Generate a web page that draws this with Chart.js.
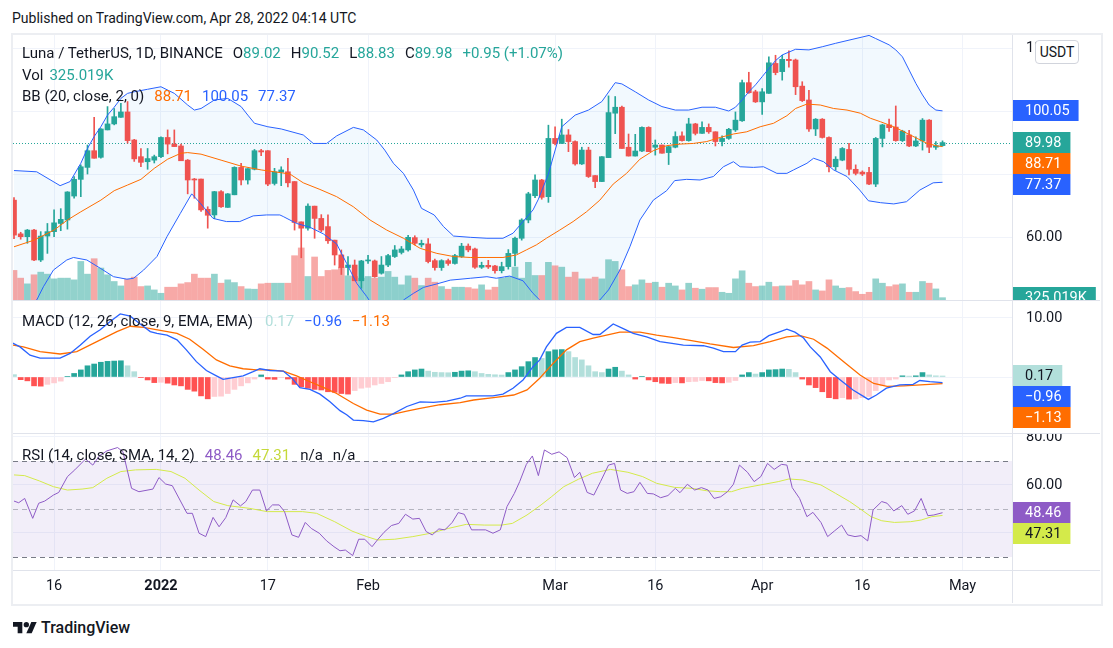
<!DOCTYPE html>
<html lang="en">

<head>
    <meta charset="UTF-8">
    <title>LUNAUSDT 1D - TradingView</title>
    <script src="https://cdn.jsdelivr.net/npm/chart.js"></script>
    <style>
        body {
            margin: 0;
            background: #fff;
            font-family: Roboto, "Liberation Sans", Arial, sans-serif;
            color: #131722;
        }

        #page {
            position: relative;
            width: 1113px;
            height: 648px;
            overflow: hidden;
        }

        .abs {
            position: absolute;
        }

        canvas {
            position: absolute;
            left: 13px;
        }

        .line {
            position: absolute;
            background: #e0e3eb;
        }

        .lg {
            position: absolute;
            left: 22px;
            font-size: 15px;
            line-height: 20px;
            white-space: nowrap;
            z-index: 5;
        }

        .lg span {
            margin-left: 10px;
        }

        .lg span.v {
            margin-left: 0;
        }
    </style>
</head>

<body>
    <div id="page">
        <div class="abs" style="left:12px;top:10px;font-size:14px;color:#131722">Published on TradingView.com, Apr 28, 2022 04:14 UTC</div>
        <div class="abs" style="left:11px;top:33px;width:1088px;height:569px;border:2px solid #eceef2"></div>

        <canvas id="priceChart" width="1087" height="265" style="top:35px"></canvas>
        <canvas id="macdChart" width="1087" height="133" style="top:301px"></canvas>
        <canvas id="rsiChart" width="1087" height="168" style="top:434px"></canvas>

        <div class="line" style="left:13px;top:300px;width:1087px;height:1px"></div>
        <div class="line" style="left:13px;top:433px;width:1087px;height:1px"></div>
        <div class="line" style="left:13px;top:570px;width:1087px;height:1px"></div>
        <div class="line" style="left:1012px;top:35px;width:1px;height:568px"></div>

        <div class="abs" style="left:1035px;top:40px;width:42px;height:22px;border:1px solid #d1d4dc;border-radius:4px;background:#fff;font-size:14px;line-height:22px;text-align:center;z-index:6">USDT</div>

        <div class="lg" id="lgMain" style="top:43px"></div>
        <div class="lg" id="lgVol" style="top:65px"></div>
        <div class="lg" id="lgBB" style="top:86px"></div>
        <div class="lg" id="lgMacd" style="top:311px"></div>
        <div class="lg" id="lgRsi" style="top:445px"></div>

        <div class="abs" style="left:13px;top:618px;display:flex;align-items:center">
            <svg width="24" height="16" viewBox="0 0 36 24">
                <path d="M14 20H7V10H0V3h14v17z" fill="#131722" />
                <circle cx="20" cy="7" r="4" fill="#131722" />
                <path d="M28 20h-8l7.5-17h8L28 20z" fill="#131722" />
            </svg>
            <span style="margin-left:4px;font-size:16px;font-weight:500;color:#131722">TradingView</span>
        </div>
    </div>

    <script>
        // time axis: candle index 0 = 10 Dec 2021, last = 28 Apr 2022
        const gridDays = [6, 22, 38, 53, 81, 96, 112, 127, 142];
        const gridLabels = ['16', '2022', '17', 'Feb', 'Mar', '16', 'Apr', '16', 'May'];

        const opens = [71.7, 61.0, 60.1, 62.2, 52.7, 60.3, 61.7, 64.3, 65.4, 73.0, 78.3, 82.1, 87.4, 85.3, 94.0, 95.9, 98.0, 99.7, 90.8, 85.5,
            83.9, 84.4, 85.5, 91.6, 89.5, 88.9, 84.4, 78.4, 78.4, 68.8, 67.0, 74.4, 69.4, 73.4, 82.1, 78.1, 81.5, 87.4, 87.4, 77.0,
            80.6, 80.7, 77.6, 64.8, 62.8, 69.8, 65.9, 63.3, 59.0, 54.3, 50.3, 51.1, 46.1, 52.4, 52.4, 48.5, 51.1, 53.8, 55.1, 55.9,
            59.8, 57.5, 57.8, 52.5, 50.3, 52.5, 51.6, 53.8, 57.1, 56.2, 50.4, 51.0, 50.8, 49.3, 50.6, 54.8, 59.6, 65.4, 73.1, 78.1,
            72.8, 91.3, 89.7, 92.4, 90.3, 83.2, 87.6, 79.5, 77.6, 85.2, 99.3, 101.2, 88.5, 85.7, 87.3, 94.8, 88.5, 89.2, 86.8, 88.5,
            92.1, 90.6, 95.9, 92.9, 94.8, 93.4, 90.3, 91.3, 94.0, 96.9, 109.0, 106.1, 102.9, 105.6, 115.1, 112.5, 116.4, 116.2, 107.9, 103.5,
            94.3, 97.4, 91.6, 82.3, 84.4, 87.8, 81.5, 80.6, 80.5, 76.8, 91.3, 95.6, 94.9, 90.6, 92.4, 88.9, 90.5, 97.1, 88.5, 89.02];
        const highs = [72.5, 61.5, 62.4, 62.4, 61.7, 64.3, 68.6, 69.0, 74.4, 79.2, 82.9, 89.2, 98.0, 94.4, 101.4, 100.8, 102.4, 103.0, 91.0, 88.1,
            88.1, 86.0, 91.8, 94.0, 94.0, 89.5, 84.6, 78.6, 78.4, 69.6, 74.5, 74.7, 73.8, 82.3, 83.4, 81.7, 87.8, 87.8, 87.4, 81.8,
            82.3, 85.0, 77.6, 64.8, 70.5, 69.8, 67.1, 67.0, 59.0, 55.9, 53.8, 52.7, 52.6, 54.2, 52.7, 53.8, 54.5, 57.3, 57.0, 60.5,
            60.4, 59.0, 59.5, 53.0, 52.8, 53.0, 54.5, 58.0, 57.8, 56.5, 52.0, 52.6, 51.0, 52.0, 56.0, 60.0, 65.8, 74.2, 79.7, 78.3,
            95.5, 95.0, 97.4, 94.1, 90.5, 88.5, 88.5, 79.5, 85.5, 104.8, 104.6, 101.6, 92.7, 92.6, 95.0, 95.0, 90.8, 89.2, 88.9, 93.4,
            93.4, 97.7, 96.1, 96.6, 95.9, 93.4, 92.1, 94.5, 99.7, 109.8, 112.3, 106.6, 107.1, 117.2, 117.7, 117.7, 119.1, 116.5, 109.3, 106.6,
            97.6, 97.6, 91.8, 85.5, 88.4, 89.7, 82.9, 81.0, 82.1, 91.6, 95.8, 97.4, 101.6, 93.9, 93.9, 91.8, 97.6, 97.3, 90.3, 90.52];
        const lows = [59.5, 59.3, 58.0, 52.5, 52.2, 54.8, 60.1, 62.0, 62.5, 72.3, 72.8, 80.0, 85.0, 85.0, 94.0, 95.6, 98.0, 89.8, 84.0, 82.3,
            81.5, 83.5, 85.2, 86.4, 88.7, 84.2, 73.7, 72.3, 68.1, 62.8, 65.8, 69.4, 69.4, 73.4, 76.5, 76.8, 81.3, 85.8, 76.3, 76.5,
            76.3, 75.9, 62.2, 53.4, 62.2, 59.6, 61.7, 58.0, 51.1, 48.1, 47.9, 46.1, 43.7, 51.6, 47.2, 48.2, 50.6, 53.5, 54.6, 55.5,
            57.5, 56.8, 51.8, 49.5, 49.4, 51.0, 51.4, 53.5, 55.3, 50.0, 50.0, 50.0, 48.5, 48.6, 49.8, 50.8, 59.0, 64.5, 72.5, 72.0,
            71.0, 89.2, 89.7, 87.1, 82.8, 83.0, 78.9, 75.7, 77.6, 85.2, 92.8, 88.1, 85.7, 85.7, 87.1, 87.1, 86.0, 86.6, 83.0, 88.3,
            90.4, 90.4, 92.4, 92.9, 92.9, 88.9, 88.9, 91.0, 93.5, 96.7, 105.6, 102.7, 98.9, 105.6, 111.5, 109.8, 113.9, 105.2, 103.0, 93.5,
            92.2, 91.4, 80.7, 81.2, 84.2, 79.7, 79.7, 79.5, 76.6, 76.0, 88.6, 93.5, 90.4, 90.3, 88.7, 88.7, 87.6, 86.8, 87.8, 88.83];
        const closes = [60.6, 60.1, 62.2, 52.7, 60.3, 61.7, 64.5, 65.6, 74.3, 78.3, 82.3, 87.4, 85.0, 94.3, 95.9, 98.2, 99.7, 90.6, 84.8, 83.7,
            84.9, 85.5, 91.6, 89.5, 88.7, 84.2, 78.1, 78.1, 68.6, 66.9, 74.4, 69.6, 73.7, 82.1, 78.1, 81.7, 87.4, 87.0, 76.8, 80.7,
            81.3, 77.2, 64.6, 62.8, 69.8, 65.9, 62.2, 58.8, 54.3, 50.3, 51.1, 46.1, 52.4, 52.6, 47.4, 51.1, 54.1, 55.9, 56.2, 59.9,
            58.0, 58.0, 52.2, 50.3, 52.5, 51.6, 54.1, 57.1, 55.9, 50.4, 51.0, 50.5, 49.3, 50.6, 54.8, 59.6, 65.4, 73.7, 78.1, 72.6,
            91.3, 89.7, 92.4, 90.3, 83.2, 87.6, 79.2, 77.6, 85.5, 99.5, 101.2, 88.1, 85.7, 87.3, 94.8, 87.1, 89.2, 86.6, 88.7, 91.9,
            90.6, 95.9, 92.9, 94.8, 93.4, 90.3, 91.3, 94.2, 97.1, 109.0, 105.8, 102.9, 106.1, 115.3, 112.2, 116.4, 116.0, 107.7, 103.3, 94.3,
            97.4, 91.6, 82.3, 84.7, 88.1, 81.5, 80.2, 80.0, 76.8, 91.3, 95.6, 94.7, 90.6, 93.6, 88.9, 90.5, 97.1, 88.5, 89.03, 89.98];
        // volume in thousands
        const volumes = [4140, 3060, 2260, 3530, 3900, 3620, 2960, 3060, 3060, 2820, 5400, 3620, 5780, 4470, 3530, 2590, 1970, 2920, 3200, 1880,
            1970, 1410, 940, 1790, 1790, 2260, 2440, 3620, 3060, 3060, 3620, 2350, 2820, 2440, 1880, 1550, 1510, 2260, 2350, 2350,
            2350, 2350, 6200, 7290, 3290, 6020, 3290, 4140, 4230, 4600, 3380, 3290, 3060, 3290, 3060, 3200, 4000, 3200, 2120, 3380,
            3060, 2020, 3060, 2490, 1880, 1510, 1790, 1790, 1740, 1550, 2120, 1410, 1790, 3060, 3290, 4600, 3060, 5270, 3430, 3430,
            5270, 4790, 4600, 3200, 3900, 2960, 2960, 3200, 2960, 5640, 5400, 4230, 1880, 2120, 2820, 2350, 2490, 1790, 2350, 1970,
            1410, 2350, 1650, 1510, 1740, 1740, 1080, 940, 2960, 4090, 2350, 1880, 1970, 2490, 1880, 1970, 1970, 2730, 2120, 2590,
            1410, 1270, 2820, 1970, 1650, 1740, 1180, 800, 1080, 2960, 2350, 1880, 2120, 2260, 1080, 1080, 2590, 2350, 1550, 325.019];

        // Bollinger bands: [candle index, price]
        const bbUpper = [[0, 81.1], [3.4, 80.7], [6.9, 76.3], [8.4, 77.6], [10, 83.4], [11, 88.1], [12, 91.9], [13, 95], [14, 98.7], [15, 101.2],
            [16, 104], [17, 105.6], [18, 106.1], [20, 106.9], [22, 107.7], [24, 105.6], [26, 101.9], [27, 100.3], [28, 100.8], [30, 103.5],
            [32, 104], [34, 101.4], [35, 98.7], [36, 96.1], [38, 95], [40, 94.3], [43.3, 92.4], [44.8, 89.7], [46.8, 89.7], [48.3, 92.1],
            [50.8, 94.8], [52.3, 94], [54.3, 90.8], [55.5, 87.6], [56.8, 83.4], [58.3, 80.2], [59.8, 74.9], [61, 69.1], [62.9, 67], [64.3, 63.3],
            [65.8, 60.3], [68.3, 59.9], [70.8, 59.6], [73.2, 59.6], [74.7, 61.2], [76.2, 64.9], [77.7, 68.6], [78.5, 72], [80, 80], [82, 95],
            [84, 98.7], [86, 100.3], [88, 103], [90, 109], [91, 108.6], [93, 106.1], [95, 103.5], [97, 101.4], [99, 100.3], [101, 100.3],
            [103, 101.2], [105, 101.2], [107, 100], [108, 101.2], [109, 103.5], [110, 106.1], [111, 108.3], [112, 110.9], [113, 113.5], [114, 116],
            [115, 117.8], [117, 119.6], [119, 119.4], [121, 120.4], [123, 121.5], [125, 122.5], [127, 123.5], [128, 124], [129, 123], [131, 121],
            [132, 119.4], [133, 117.2], [134, 113], [135, 108.8], [136, 105.1], [137, 101.9], [138, 100.3], [139, 100.05]];
        const bbBasis = [[0, 56.9], [3, 59], [6, 62.2], [8, 65.4], [10, 68], [13, 71.7], [15, 74.7], [17, 76.5], [19, 78.3], [21, 81.8],
            [23, 84.7], [25, 86.6], [26, 86.8], [28, 86.3], [31, 84.4], [34, 82.5], [37, 81.3], [40, 80.4], [41.3, 80], [43.3, 77.2],
            [45.8, 75.1], [48.3, 72.8], [50.8, 69.6], [53.3, 65.4], [55.8, 62.2], [58.3, 59.6], [60.8, 56.4], [63.3, 54.8], [65.8, 53.8], [68.3, 53.5],
            [70.8, 53.5], [73.2, 53.5], [75.2, 54.3], [76.7, 55.9], [78.2, 57.5], [79.7, 59.6], [81.7, 62.2], [83.7, 64.9], [85.7, 68], [87.7, 71.7],
            [89.7, 76.8], [91.7, 80.2], [93.7, 84.7], [95.7, 87.4], [97.7, 89], [99.7, 89.5], [101.7, 89.7], [103.7, 90.3], [105.7, 91.6], [107.7, 92.7],
            [109.7, 93.4], [111.7, 95], [113.7, 96.1], [115.7, 98.5], [117, 100.8], [118.7, 102.2], [120.7, 101.9], [122.7, 100.8], [124.7, 100.3], [126.7, 99.3],
            [128.2, 97.7], [129.7, 96.6], [131.7, 95], [133.7, 92.9], [135.2, 91.3], [136.7, 89.7], [138.2, 88.9], [139, 88.71]];
        const bbLower = [[0, 35], [2, 37.5], [3.4, 40], [4.4, 44.2], [5.9, 49.5], [7.9, 52.7], [8.9, 53.5], [10.9, 52.7], [12.9, 50.1], [14.9, 47.4],
            [16.9, 46.6], [17.9, 46.9], [19.4, 49.5], [21.4, 53.8], [22.9, 60.1], [24.9, 67.5], [26.6, 73.7], [27.9, 70.7], [29.8, 65.9], [31.8, 64.9],
            [33.8, 64.9], [35.8, 66.7], [37.8, 67], [39.8, 67], [40.3, 66.5], [42.3, 64.3], [44.3, 63.1], [46.3, 61], [48.3, 57.8], [49.8, 51.6],
            [51.3, 45.3], [52.8, 41.1], [53.3, 39.5], [55.5, 36.5], [57, 37], [58.3, 40], [59.8, 42.1], [61.3, 44], [63.3, 45.1], [65.3, 46.3],
            [68.3, 46.9], [70.8, 47.4], [72.2, 46.9], [74.2, 47.6], [76.2, 46.1], [77.7, 42.1], [78.7, 40], [80, 37], [83, 35.5], [86, 37],
            [87.7, 40], [89, 43.2], [90.7, 49.5], [92.2, 56.9], [93.7, 65.4], [95.7, 71.7], [97.7, 74.7], [98.9, 77.9], [100.7, 78.3], [102.7, 78.1],
            [104.7, 79.2], [106.2, 82.3], [107.7, 83.9], [108.7, 82.3], [110.7, 82.1], [112.2, 82.3], [114.2, 80.2], [115.7, 80.2], [116.7, 81.3], [118.7, 83.4],
            [119.7, 85], [121.2, 83.9], [122.7, 81.3], [124.7, 79.2], [126.6, 74.9], [127.9, 71.5], [129.7, 70.9], [131.7, 70.5], [133.6, 71.2], [135.6, 74.9],
            [137.6, 77.2], [139, 77.37]];

        // MACD (12, 26, 9)
        const macdHist = [0.4, -0.45, -0.65, -1.5, -1.55, -1.25, -1.0, -0.7, 0.1, 0.6, 1.2, 1.9, 2.2, 2.5, 2.65, 2.7, 2.75, 1.9, 0.9, -0.1,
            -0.5, -0.95, -0.9, -1.05, -1.35, -1.5, -2.1, -2.4, -3.2, -3.7, -3.3, -3.25, -2.8, -2.1, -1.5, -1.0, -0.35, 0.35, -0.35, -0.4,
            -0.1, -0.35, -1.25, -1.65, -1.9, -2.1, -2.2, -2.5, -2.6, -2.8, -2.9, -2.3, -1.9, -1.75, -1.35, -1.1, -0.8, -0.1, 0.35, 0.9,
            1.2, 1.35, 1.0, 0.8, 0.75, 0.72, 0.8, 1.0, 1.05, 0.9, 0.6, 0.45, 0.38, 0.33, 0.75, 1.2, 1.75, 2.6, 3.3, 3.15,
            4.3, 4.6, 4.65, 4.3, 3.3, 2.9, 1.9, 0.9, 0.75, 1.35, 1.65, 1.0, 0.35, -0.35, 0.1, -0.5, -0.8, -1.05, -1.1, -0.95,
            -1.0, -0.8, -0.75, -0.6, -0.65, -0.95, -1.0, -0.9, -0.6, 0.35, 0.75, 0.5, 0.75, 1.2, 1.25, 1.35, 1.3, 0.75, -0.35, -1.35,
            -1.8, -2.5, -3.5, -3.7, -3.5, -3.75, -3.7, -3.5, -3.3, -2.3, -1.5, -0.5, -0.35, 0.2, 0.15, 0.2, 0.75, 0.35, 0.2, 0.17];
        const macdLine = [[-0.6, 6.0], [0.9, 5.1], [2.4, 3.7], [3.9, 3.2], [6.9, 3.2], [8.4, 4.0], [9.9, 5.4], [11.4, 6.9], [12.9, 8.0], [14.4, 9.4],
            [15.9, 10.7], [17.4, 10.3], [18.9, 9.0], [20.4, 7.7], [21.4, 7.4], [22.9, 7.1], [24.4, 6.3], [25.8, 4.6], [27.3, 2.6], [28.8, 1.1],
            [30.3, 0.2], [31.3, -0.4], [32.8, -0.1], [34.3, 0.2], [35.8, 0.9], [36.8, 1.4], [38.3, 1.1], [40.3, 1.0], [41.6, -0.2], [42.8, -1.8],
            [44.3, -2.1], [45.8, -2.9], [47.3, -4.2], [48.8, -5.7], [49.8, -6.4], [50.8, -7.3], [52.3, -7.4], [53.8, -7.6], [55.3, -7.0], [56.8, -6.2],
            [58.8, -5.0], [60.8, -4.2], [62.8, -4.3], [64.8, -4.1], [66.8, -3.6], [67.7, -3.2], [69.7, -3.2], [71.7, -3.2], [73.2, -2.9], [74.7, -1.9],
            [76.2, -0.5], [77.7, 1.75], [78.7, 2.9], [79.7, 5.1], [81.2, 7.4], [82.7, 8.4], [84.7, 8.4], [86.7, 7.2], [87.7, 7.2], [89.7, 9.0],
            [91.2, 8.2], [92.7, 7.4], [94.7, 6.8], [96.7, 6.0], [98.5, 5.7], [100.2, 5.4], [103.2, 5.3], [104.7, 4.9], [106.2, 4.3], [108.0, 4.3],
            [109.0, 5.4], [110.2, 5.9], [111.7, 6.0], [113.0, 7.0], [114.7, 7.7], [115.7, 8.1], [116.9, 7.6], [118.2, 6.6], [119.2, 5.1], [120.7, 3.4],
            [122.2, 0.9], [123.7, -0.5], [125.6, -2.2], [127.9, -3.8], [129.1, -3.05], [130.6, -1.9], [132.6, -1.35], [134.6, -1.25], [135.6, -0.6], [137.1, -0.8],
            [139, -0.96]];
        const signalLine = [[-0.6, 5.5], [1.4, 5.1], [3.9, 4.3], [6.9, 3.9], [9.4, 4.3], [12.4, 6.0], [15.4, 7.7], [17.4, 8.6], [19.4, 8.4], [21.9, 7.9],
            [24.4, 7.4], [26.3, 6.4], [28.3, 4.7], [30.3, 2.9], [32.3, 1.9], [34.3, 1.4], [36.3, 1.2], [38.3, 1.2], [40.3, 1.0], [42.3, 0.2],
            [44.3, -0.8], [46.3, -1.75], [48.3, -2.8], [50.8, -4.5], [52.8, -5.6], [54.8, -6.3], [56.8, -6.3], [58.8, -5.8], [60.8, -5.3], [63.8, -4.7],
            [66.8, -4.35], [68.8, -3.9], [71.8, -3.5], [74.8, -3.05], [76.8, -2.2], [78.7, -0.2], [80.7, 2.3], [82.7, 4.6], [84.7, 6.0], [86.7, 6.6],
            [88.7, 7.1], [90.7, 7.6], [93.7, 7.6], [96.2, 7.1], [98.5, 6.7], [101.2, 6.2], [104.2, 5.6], [107.7, 5.0], [110.7, 5.3], [113.2, 6.0],
            [115.7, 6.8], [117.7, 7.0], [119.7, 6.4], [121.7, 4.9], [124.2, 2.6], [126.7, 0.3], [128.7, -1.1], [130.7, -1.6], [133.2, -1.5], [135.7, -1.35],
            [139, -1.13]];

        // RSI (14) and its SMA
        const rsiLine = [[0, 53.3], [0.7, 52.6], [1.6, 54.4], [2.8, 46.1], [3.7, 52.4], [4.6, 53.3], [5.9, 55.8], [6.7, 56.9], [8.0, 63.5], [9.1, 66.3],
            [10.7, 70.8], [11.8, 68.3], [12.8, 72.2], [13.9, 74.2], [15.5, 75.6], [16.3, 73.9], [17.6, 58.6], [18.7, 57.2], [20.8, 58.3], [21.7, 63.1],
            [22.7, 60.4], [23.7, 59.7], [25.9, 48.2], [26.7, 48.2], [27.7, 39.9], [28.7, 38.5], [29.8, 46.5], [30.7, 42.6], [31.7, 46.4], [32.8, 53.8],
            [33.9, 51.3], [34.7, 53.1], [35.7, 57.9], [36.8, 57.9], [37.8, 49.2], [38.7, 51.7], [39.7, 51.7], [40.5, 48.9], [41.6, 39.2], [42.6, 38.2],
            [43.6, 44.4], [44.5, 41.9], [45.7, 39.9], [46.8, 36.7], [47.9, 34.3], [48.8, 32.6], [49.6, 32.9], [50.7, 30.6], [51.6, 37.4], [52.5, 37.4],
            [53.6, 34.3], [54.4, 37.1], [55.4, 40.3], [56.5, 43.1], [57.6, 44.0], [58.6, 47.8], [59.7, 45.8], [60.7, 46.1], [61.7, 40.6], [62.6, 39.2],
            [63.6, 41.7], [64.5, 41.3], [65.6, 44.4], [66.5, 48.5], [67.4, 47.8], [68.5, 41.3], [69.6, 41.3], [70.6, 41.3], [71.7, 39.9], [72.8, 41.3],
            [73.8, 51.0], [74.9, 56.5], [75.7, 61.4], [76.7, 68.6], [77.6, 72.1], [78.5, 63.9], [79.4, 74.6], [80.5, 72.8], [81.6, 73.8], [82.8, 71.4],
            [83.9, 63.1], [84.7, 65.3], [85.8, 56.9], [86.8, 55.8], [87.8, 61.4], [89.0, 68.3], [89.9, 69.0], [90.8, 57.9], [91.8, 56.5], [92.8, 57.2],
            [93.7, 61.1], [94.8, 56.5], [95.7, 56.3], [96.8, 54.7], [97.9, 55.6], [99.0, 58.6], [99.7, 56.8], [100.8, 60.3], [101.9, 57.9], [102.9, 58.9],
            [103.9, 57.9], [104.8, 54.4], [105.8, 55.1], [106.8, 57.2], [107.7, 60.3], [108.6, 68.3], [109.8, 65.3], [110.8, 61.4], [111.8, 63.5], [112.8, 69.0],
            [113.8, 66.5], [114.9, 68.6], [115.7, 68.3], [116.5, 58.9], [117.6, 54.4], [118.7, 46.8], [119.6, 48.6], [120.8, 44.4], [121.8, 38.5], [122.8, 40.8],
            [123.9, 43.3], [124.8, 39.2], [125.9, 38.5], [126.8, 38.9], [127.8, 36.7], [128.6, 49.6], [129.9, 53.1], [130.7, 52.4], [131.7, 49.2], [132.9, 51.4],
            [133.8, 47.8], [134.8, 49.2], [135.8, 54.4], [136.8, 47.2], [137.7, 47.5], [139, 48.46]];
        const rsiMa = [[0, 64.2], [1.6, 63.9], [3.8, 61.7], [5.9, 59.3], [8.0, 57.9], [10.2, 58.3], [11.8, 58.9], [13.9, 62.8], [16.0, 65.6], [18.2, 66.3],
            [21.3, 66.5], [23.5, 65.6], [25.6, 62.8], [27.7, 57.9], [29.9, 53.1], [32.0, 51.4], [35.2, 50.3], [37.9, 48.9], [40.5, 48.9], [43.2, 48.9],
            [45.3, 48.2], [48.0, 44.7], [50.6, 40.8], [52.8, 38.5], [54.4, 37.1], [57.0, 37.4], [59.7, 38.5], [62.4, 39.9], [65.0, 41.9], [67.7, 43.6],
            [70.4, 43.3], [73.0, 43.3], [74.6, 44.0], [76.8, 47.5], [78.9, 51.7], [80.5, 55.2], [82.3, 59.3], [84.5, 62.4], [86.6, 64.9], [89.3, 66.5],
            [91.9, 65.3], [94.1, 63.5], [96.2, 60.7], [98.9, 59.0], [101.5, 58.6], [103.7, 57.6], [105.8, 57.2], [107.4, 57.2], [109.0, 58.6], [111.7, 60.0],
            [114.4, 61.4], [116.0, 62.5], [118.1, 62.1], [120.8, 60.0], [123.0, 56.5], [125.1, 53.1], [126.7, 50.0], [128.3, 46.8], [129.9, 45.1], [131.8, 44.4],
            [134.2, 44.7], [135.8, 45.4], [137.4, 46.8], [139, 47.31]];

        const UP = '#26a69a', DOWN = '#ef5350';
        const BLUE = '#2962ff', ORANGE = '#ff6d00', PURPLE = '#8e5bc6', LIME = '#d4ea4a';
        const GRID = '#f0f3fa';
        const FONT = 'Roboto, "Liberation Sans", Arial, sans-serif';
        const AXIS_PX = 14.5;
        const X_MIN = -0.15, X_MAX = 149.4;

        const idx = closes.map((_, i) => i);
        const isUp = i => closes[i] >= opens[i];
        const pts = arr => arr.map(p => ({ x: p[0], y: p[1] }));
        const last = arr => arr[arr.length - 1];
        const fmt = v => (v < 0 ? '\u2212' : '') + Math.abs(v).toFixed(2);

        // shared x axis: day grid lines, labels only under the last pane
        function xScale(showLabels) {
            return {
                type: 'linear', min: X_MIN, max: X_MAX, offset: false,
                grid: { color: GRID, drawTicks: false, offset: false },
                border: { display: false },
                ticks: {
                    display: showLabels, autoSkip: false, maxRotation: 0, padding: 8, color: '#131722',
                    font: ctx => ({ family: FONT, size: AXIS_PX, weight: ctx.tick && ctx.tick.value === 22 ? 'bold' : 'normal' }),
                    callback: v => gridLabels[gridDays.indexOf(v)]
                },
                afterBuildTicks: s => { s.ticks = gridDays.map(v => ({ value: v })); },
                afterFit: s => { s.height = showLabels ? 32 : 0; }
            };
        }

        function yScale(min, max, gridVals) {
            return {
                position: 'right', min: min, max: max,
                grid: { color: GRID, drawTicks: false },
                border: { display: false },
                ticks: { display: false },
                afterBuildTicks: s => { s.ticks = gridVals.map(v => ({ value: v })); },
                afterFit: s => { s.width = 88; }
            };
        }

        // price-scale labels and coloured value badges, right of the plot
        function rightAxis(id, axisId, tickVals, badgeFn) {
            return {
                id: id,
                afterDraw(chart) {
                    const ctx = chart.ctx, area = chart.chartArea;
                    const badges = badgeFn(chart).sort((a, b) => a.y - b.y);
                    let prev = -1e9;
                    badges.forEach(b => { b.y = Math.max(b.y, prev + 21); prev = b.y; });
                    ctx.save();
                    ctx.font = AXIS_PX + 'px ' + FONT;
                    ctx.textBaseline = 'middle';
                    ctx.textAlign = 'left';
                    tickVals.forEach(v => {
                        const y = chart.scales[axisId].getPixelForValue(v);
                        if (badges.some(b => Math.abs(b.y - y) < 18)) return;
                        ctx.fillStyle = '#131722';
                        ctx.fillText(v.toFixed(2), area.right + 14, y);
                    });
                    badges.forEach(b => {
                        const w = ctx.measureText(b.text).width + 21;
                        ctx.fillStyle = b.bg;
                        ctx.fillRect(area.right + 1, Math.round(b.y - 10.5), w, 21);
                        ctx.fillStyle = b.fg;
                        ctx.fillText(b.text, area.right + 13, b.y + 0.5);
                    });
                    ctx.restore();
                }
            };
        }

        const common = {
            responsive: false, animation: false, events: [], devicePixelRatio: 1,
            layout: { padding: 0, autoPadding: false },
            plugins: { legend: { display: false }, tooltip: { enabled: false }, filler: { drawTime: 'beforeDatasetsDraw' } }
        };

        // ---- price pane ----
        const lastPriceLine = {
            id: 'lastPrice',
            beforeDatasetsDraw(chart) {
                const ctx = chart.ctx, a = chart.chartArea;
                const y = Math.round(chart.scales.y.getPixelForValue(last(closes))) + 0.5;
                ctx.save();
                ctx.strokeStyle = UP;
                ctx.setLineDash([1, 2]);
                ctx.beginPath();
                ctx.moveTo(a.left, y);
                ctx.lineTo(a.right, y);
                ctx.stroke();
                ctx.restore();
            }
        };

        new Chart(document.getElementById('priceChart'), {
            type: 'bar',
            data: {
                datasets: [
                    { type: 'line', data: pts(bbUpper), borderColor: BLUE, borderWidth: 1, pointRadius: 0, fill: 1, backgroundColor: 'rgba(33,150,243,0.06)', order: 0 },
                    { type: 'line', data: pts(bbLower), borderColor: BLUE, borderWidth: 1, pointRadius: 0, fill: false, order: 0 },
                    { type: 'line', data: pts(bbBasis), borderColor: ORANGE, borderWidth: 1, pointRadius: 0, fill: false, order: 0 },
                    {
                        data: idx.map(i => ({ x: i, y: [lows[i], highs[i]] })), backgroundColor: idx.map(i => isUp(i) ? UP : DOWN),
                        barThickness: 1, grouped: false, order: 3
                    },
                    {
                        data: idx.map(i => ({ x: i, y: [Math.min(opens[i], closes[i]), Math.max(opens[i], closes[i])] })),
                        backgroundColor: idx.map(i => isUp(i) ? UP : DOWN), barThickness: 5, minBarLength: 1, grouped: false, order: 2
                    },
                    {
                        data: idx.map(i => ({ x: i, y: volumes[i] })), yAxisID: 'vol',
                        backgroundColor: idx.map(i => isUp(i) ? 'rgba(38,166,154,0.5)' : 'rgba(239,83,80,0.5)'),
                        barThickness: 6, grouped: false, order: 10
                    }
                ]
            },
            options: Object.assign({}, common, {
                scales: {
                    x: xScale(false),
                    y: yScale(40, 124.13, [60, 80, 100, 120]),
                    vol: { display: false, min: 0, max: 37100 }
                }
            }),
            plugins: [lastPriceLine, rightAxis('priceAxis', 'y', [60, 80, 100, 120], chart => {
                const y = chart.scales.y, v = chart.scales.vol;
                return [
                    { y: y.getPixelForValue(last(bbUpper)[1]), text: last(bbUpper)[1].toFixed(2), bg: BLUE, fg: '#fff' },
                    { y: y.getPixelForValue(last(closes)), text: last(closes).toFixed(2), bg: UP, fg: '#fff' },
                    { y: y.getPixelForValue(last(bbBasis)[1]), text: last(bbBasis)[1].toFixed(2), bg: ORANGE, fg: '#fff' },
                    { y: y.getPixelForValue(last(bbLower)[1]), text: last(bbLower)[1].toFixed(2), bg: BLUE, fg: '#fff' },
                    { y: v.getPixelForValue(last(volumes)), text: last(volumes).toFixed(3) + 'K', bg: UP, fg: '#fff' }
                ];
            })]
        });

        // ---- MACD pane ----
        const histColors = macdHist.map((v, i) => {
            const p = i ? macdHist[i - 1] : v;
            return v >= 0 ? (v > p ? '#26a69a' : '#b2dfdb') : (v < p ? '#ff5252' : '#ffcdd2');
        });
        new Chart(document.getElementById('macdChart'), {
            type: 'bar',
            data: {
                datasets: [
                    { type: 'line', data: pts(macdLine), borderColor: BLUE, borderWidth: 1.3, pointRadius: 0, order: 0 },
                    { type: 'line', data: pts(signalLine), borderColor: ORANGE, borderWidth: 1.3, pointRadius: 0, order: 0 },
                    { data: macdHist.map((v, i) => ({ x: i, y: v })), backgroundColor: histColors, barThickness: 5, grouped: false, order: 5 }
                ]
            },
            options: Object.assign({}, common, {
                scales: { x: xScale(false), y: yScale(-9.66, 12.88, [-10, 0, 10]) }
            }),
            plugins: [rightAxis('macdAxis', 'y', [0, 10], chart => {
                const y = chart.scales.y;
                return [
                    { y: y.getPixelForValue(last(macdHist)), text: fmt(last(macdHist)), bg: '#b2dfdb', fg: '#131722' },
                    { y: y.getPixelForValue(last(macdLine)[1]), text: fmt(last(macdLine)[1]), bg: BLUE, fg: '#fff' },
                    { y: y.getPixelForValue(last(signalLine)[1]), text: fmt(last(signalLine)[1]), bg: ORANGE, fg: '#fff' }
                ];
            })]
        });

        // ---- RSI pane ----
        const rsiBand = {
            id: 'rsiBand',
            beforeDatasetsDraw(chart) {
                const ctx = chart.ctx, a = chart.chartArea, y = chart.scales.y;
                const y70 = y.getPixelForValue(70), y30 = y.getPixelForValue(30);
                ctx.save();
                ctx.fillStyle = 'rgba(126,87,194,0.1)';
                ctx.fillRect(a.left, y70, a.right - a.left, y30 - y70);
                ctx.setLineDash([5, 4]);
                [[70, '#787b86'], [50, 'rgba(120,123,134,0.5)'], [30, '#787b86']].forEach(([v, c]) => {
                    const py = Math.round(y.getPixelForValue(v)) + 0.5;
                    ctx.strokeStyle = c;
                    ctx.beginPath();
                    ctx.moveTo(a.left, py);
                    ctx.lineTo(a.right, py);
                    ctx.stroke();
                });
                ctx.restore();
            }
        };
        new Chart(document.getElementById('rsiChart'), {
            type: 'line',
            data: {
                datasets: [
                    { data: pts(rsiLine), borderColor: PURPLE, borderWidth: 1, pointRadius: 0 },
                    { data: pts(rsiMa), borderColor: LIME, borderWidth: 1, pointRadius: 0 }
                ]
            },
            options: Object.assign({}, common, {
                scales: { x: xScale(true), y: yScale(24.58, 81.25, [40, 60, 80]) }
            }),
            plugins: [rsiBand, rightAxis('rsiAxis', 'y', [40, 60, 80], chart => {
                const y = chart.scales.y;
                return [
                    { y: y.getPixelForValue(last(rsiLine)[1]), text: last(rsiLine)[1].toFixed(2), bg: PURPLE, fg: '#fff' },
                    { y: y.getPixelForValue(last(rsiMa)[1]), text: last(rsiMa)[1].toFixed(2), bg: LIME, fg: '#131722' }
                ];
            })]
        });

        // ---- legends ----
        const n = closes.length - 1;
        const chg = closes[n] - closes[n - 1];
        const span = (t, c, cls) => `<span${cls ? ' class="' + cls + '"' : ''} style="color:${c}">${t}</span>`;
        document.getElementById('lgMain').innerHTML = 'Luna / TetherUS, 1D, BINANCE' +
            span('O', '#131722') + span(opens[n].toFixed(2), UP, 'v') +
            span('H', '#131722') + span(highs[n].toFixed(2), UP, 'v') +
            span('L', '#131722') + span(lows[n].toFixed(2), UP, 'v') +
            span('C', '#131722') + span(closes[n].toFixed(2), UP, 'v') +
            span('+' + chg.toFixed(2) + ' (+' + (chg / closes[n - 1] * 100).toFixed(2) + '%)', UP);
        document.getElementById('lgVol').innerHTML = 'Vol<span style="color:' + UP + ';margin-left:6px">' + volumes[n].toFixed(3) + 'K</span>';
        document.getElementById('lgBB').innerHTML = 'BB (20, close, 2, 0)' + span(last(bbBasis)[1].toFixed(2), ORANGE) +
            span(last(bbUpper)[1].toFixed(2), BLUE) + span(last(bbLower)[1].toFixed(2), BLUE);
        document.getElementById('lgMacd').innerHTML = 'MACD (12, 26, close, 9, EMA, EMA)' +
            '<span style="color:#b2dfdb;margin-left:12px">' + fmt(last(macdHist)) + '</span>' +
            span(fmt(last(macdLine)[1]), BLUE) + span(fmt(last(signalLine)[1]), ORANGE);
        document.getElementById('lgRsi').innerHTML = 'RSI (14, close, SMA, 14, 2)' + span(last(rsiLine)[1].toFixed(2), PURPLE) +
            span(last(rsiMa)[1].toFixed(2), '#c5d93a') + span('n/a', '#131722') + span('n/a', '#131722');
    </script>
</body>

</html>
